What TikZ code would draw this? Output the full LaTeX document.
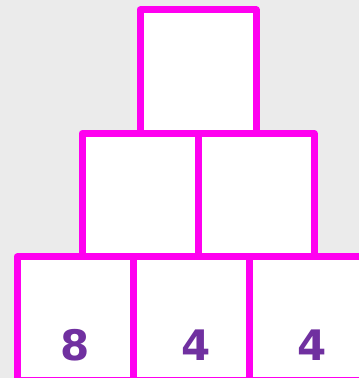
\documentclass[tikz,border=0pt]{standalone}
\usepackage{fontspec}
\newfontfamily\digitfont{DejaVu Sans}
\usetikzlibrary{positioning}

\definecolor{pyrmag}{RGB}{255,0,240}
\definecolor{pyrnum}{RGB}{112,48,160}
\definecolor{pyrbg}{RGB}{235,235,235}

\begin{document}
\begin{tikzpicture}[
  x=1pt, y=1pt,
  cell/.style={draw=pyrmag, line width=7pt, line join=round, fill=white, minimum width=116pt, minimum height=123.5pt, inner sep=0pt, outer sep=0pt},
  num/.style={text=pyrnum, font=\digitfont\bfseries\fontsize{42}{42}\selectfont, inner sep=0pt}
]
  \useasboundingbox (0,0) rectangle (359,378);
  \fill[pyrbg] (0,0) rectangle (359,378);
  \clip (0,0) rectangle (359,378);

  % bottom row
  \node[cell] (b1) at (75,59.25) {};
  \node[cell, right=0pt of b1] (b2) {};
  \node[cell, right=0pt of b2] (b3) {};

  % middle row
  \node[cell, above=0pt of b1, xshift=65pt] (m1) {};
  \node[cell, right=0pt of m1] (m2) {};

  % top
  \node[cell, above=0pt of m1.north east] (t) {};

  % numbers
  \node[num] (n1) at ([yshift=-26pt]b1.center) {8};
  \node[num] (n2) at ([xshift=5pt,yshift=-26pt]b2.center) {4};
  \node[num] (n3) at ([xshift=5pt,yshift=-26pt]b3.center) {4};
\end{tikzpicture}
\end{document}
